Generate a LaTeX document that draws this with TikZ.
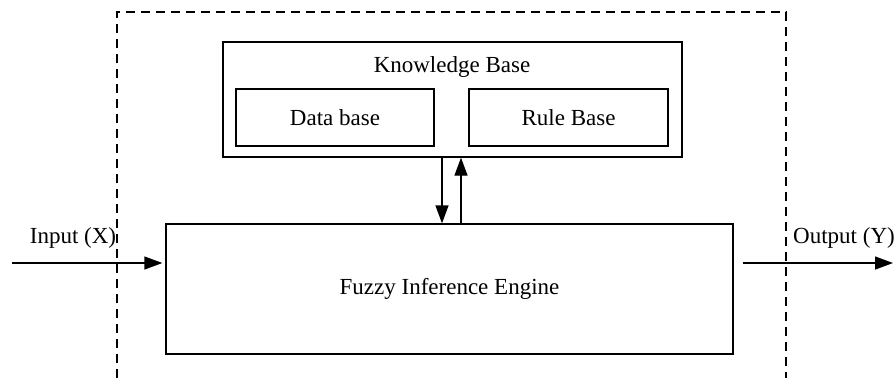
\documentclass[tikz,border=0pt]{standalone}
\usepackage{fontspec}
\setmainfont{Liberation Serif}
\usetikzlibrary{arrows.meta}
\begin{document}
\begin{tikzpicture}[x=1pt,y=-1pt,
  every node/.style={font=\fontsize{23}{27}\selectfont},
  blockbox/.style={draw, line width=1.3pt, inner sep=0pt},
  link/.style={line width=1.3pt, -{Triangle[length=18pt,width=13pt]}},
  frame/.style={line width=1.2pt, dash pattern=on 9pt off 6pt}]
  \useasboundingbox (0,0) rectangle (896,378);

  % dashed system boundary (open at the bottom)
  \coordinate (f1) at (117,378);
  \coordinate (f2) at (117,12);
  \coordinate (f3) at (786,12);
  \coordinate (f4) at (786,378);
  \draw[frame] (f1) -- (f2) -- (f3) -- (f4);

  % knowledge base with its two parts
  \node[blockbox, minimum width=459pt, minimum height=115pt] (kb) at (452.5,99.5) {};
  \node (kbl) at (452,67) {Knowledge Base};
  \node[blockbox, minimum width=198pt, minimum height=57pt] (db) at (335,117.5) {Data base};
  \node[blockbox, minimum width=199pt, minimum height=57pt] (rb) at (568.5,117.5) {Rule Base};

  % inference engine
  \node[blockbox, minimum width=567pt, minimum height=130pt] (fie) at (449.5,289) {Fuzzy Inference Engine};

  % exchange between knowledge base and engine
  \coordinate (dn) at (442,0);
  \coordinate (up) at (461,0);
  \draw[link] (kb.south -| dn) -- (fie.north -| dn);
  \draw[link] (fie.north -| up) -- (kb.south -| up);

  % input and output
  \coordinate (in) at (12,263);
  \coordinate (out) at (893,263);
  \draw[link, shorten >=3pt] (in) -- (fie.west |- in);
  \draw[link, shorten <=9pt] (fie.east |- out) -- (out);
  \node (inl) at (73,238) {Input (X)};
  \node (outl) at (844,238) {Output (Y)};
\end{tikzpicture}
\end{document}
